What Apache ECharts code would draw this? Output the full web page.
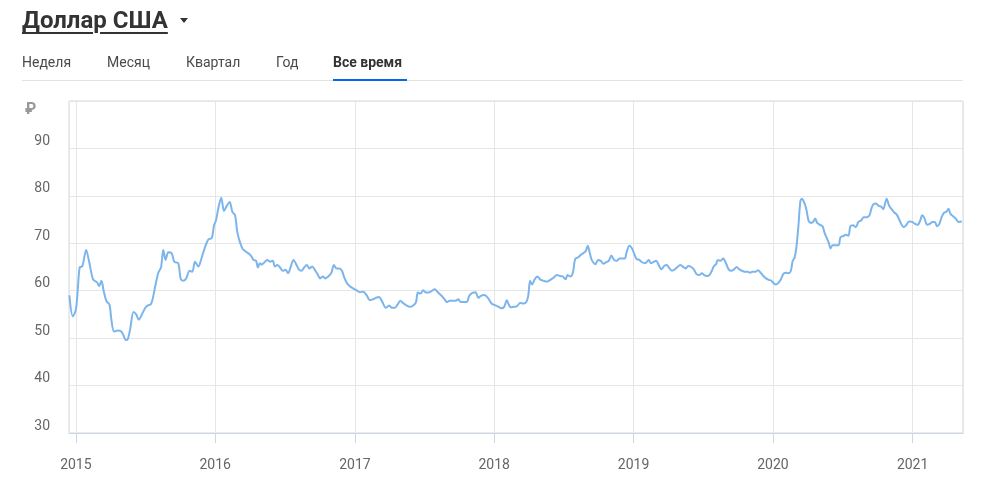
<!DOCTYPE html>
<html>
<head>
<meta charset="utf-8">
<script src="https://cdn.jsdelivr.net/npm/echarts@6/dist/echarts.min.js"></script>
<style>
  html, body { margin:0; padding:0; background:#fff; }
  body { width:985px; height:493px; position:relative; overflow:hidden; font-family: Roboto, "Noto Sans", Arial, sans-serif; }
  #chart { position:absolute; left:0; top:0; width:985px; height:493px; }
  .title { position:absolute; left:22px; top:6px; font-weight:700; font-size:24px; line-height:28px; color:#333; white-space:nowrap;
           text-decoration:underline; text-decoration-thickness:2px; text-underline-offset:4px; z-index:2; }
  .caret { position:absolute; left:180px; top:18px; width:0; height:0; border-left:4px solid transparent; border-right:4px solid transparent; border-top:5px solid #333; z-index:2; }
  .tab { position:absolute; top:54px; font-size:14px; line-height:16px; color:#4a4a4a; white-space:nowrap; z-index:2; }
  .tab.active { font-weight:700; color:#333; }
  .sep { position:absolute; left:22px; top:80px; width:941px; height:1px; background:#e2e2e2; z-index:2; }
  .ul { position:absolute; left:333px; top:79px; width:74px; height:2px; background:#0a64f0; z-index:3; }
</style>
</head>
<body>
<div id="chart"></div>
<div class="title">Доллар США</div>
<div class="caret"></div>
<div class="tab" style="left:22px">Неделя</div>
<div class="tab" style="left:107px">Месяц</div>
<div class="tab" style="left:186px">Квартал</div>
<div class="tab" style="left:276px">Год</div>
<div class="tab active" style="left:333px">Все время</div>
<div class="sep"></div>
<div class="ul"></div>
<script>
const dates = [
'2014-12-15','2014-12-24','2015-01-01','2015-01-06','2015-01-11','2015-01-18','2015-01-28','2015-02-05','2015-02-15','2015-02-25',
'2015-03-03','2015-03-09','2015-03-15','2015-03-22','2015-03-30','2015-04-04','2015-04-11','2015-04-21','2015-04-30','2015-05-05',
'2015-05-12','2015-05-17','2015-05-23','2015-06-01','2015-06-08','2015-06-15','2015-06-23','2015-07-02','2015-07-09','2015-07-16',
'2015-07-21','2015-07-28','2015-08-05','2015-08-12','2015-08-18','2015-08-24','2015-08-31','2015-09-09','2015-09-16','2015-09-26',
'2015-10-03','2015-10-10','2015-10-17','2015-10-26','2015-11-02','2015-11-09','2015-11-18','2015-11-26','2015-12-05','2015-12-14',
'2015-12-23','2015-12-29','2016-01-03','2016-01-10','2016-01-17','2016-01-24','2016-02-01','2016-02-08','2016-02-15','2016-02-22',
'2016-02-28','2016-03-06','2016-03-13','2016-03-22','2016-03-31','2016-04-05','2016-04-10','2016-04-17','2016-04-22','2016-04-27',
'2016-05-02','2016-05-09','2016-05-16','2016-05-24','2016-05-31','2016-06-05','2016-06-12','2016-06-19','2016-06-26','2016-07-03',
'2016-07-10','2016-07-17','2016-07-24','2016-07-31','2016-08-07','2016-08-14','2016-08-21','2016-08-28','2016-09-04','2016-09-11',
'2016-09-18','2016-09-25','2016-10-02','2016-10-09','2016-10-16','2016-10-23','2016-10-31','2016-11-07','2016-11-14','2016-11-21',
'2016-11-28','2016-12-04','2016-12-11','2016-12-18','2016-12-25','2017-01-05','2017-01-14','2017-01-23','2017-02-01','2017-02-09',
'2017-02-17','2017-02-25','2017-03-05','2017-03-14','2017-03-23','2017-04-01','2017-04-08','2017-04-16','2017-04-23','2017-04-30',
'2017-05-07','2017-05-16','2017-05-25','2017-06-03','2017-06-10','2017-06-15','2017-06-22','2017-06-29','2017-07-06','2017-07-13',
'2017-07-20','2017-07-29','2017-08-05','2017-08-14','2017-08-23','2017-08-30','2017-09-06','2017-09-15','2017-09-22','2017-09-29',
'2017-10-05','2017-10-14','2017-10-21','2017-10-28','2017-11-06','2017-11-13','2017-11-20','2017-11-27','2017-12-04','2017-12-11',
'2017-12-18','2017-12-25','2018-01-01','2018-01-10','2018-01-20','2018-01-27','2018-02-03','2018-02-08','2018-02-13','2018-02-21',
'2018-03-01','2018-03-10','2018-03-19','2018-03-26','2018-03-31','2018-04-05','2018-04-10','2018-04-17','2018-04-24','2018-05-01',
'2018-05-10','2018-05-19','2018-05-28','2018-06-06','2018-06-14','2018-06-23','2018-06-30','2018-07-07','2018-07-12','2018-07-19',
'2018-07-26','2018-08-01','2018-08-08','2018-08-15','2018-08-22','2018-08-29','2018-09-03','2018-09-07','2018-09-12','2018-09-17',
'2018-09-23','2018-09-30','2018-10-07','2018-10-14','2018-10-21','2018-10-28','2018-11-04','2018-11-11','2018-11-18','2018-11-25',
'2018-12-02','2018-12-09','2018-12-14','2018-12-21','2018-12-28','2019-01-04','2019-01-09','2019-01-16','2019-01-23','2019-01-31',
'2019-02-05','2019-02-10','2019-02-15','2019-02-21','2019-03-01','2019-03-08','2019-03-15','2019-03-22','2019-03-29','2019-04-05',
'2019-04-12','2019-04-19','2019-04-26','2019-05-03','2019-05-10','2019-05-17','2019-05-24','2019-06-01','2019-06-08','2019-06-15',
'2019-06-22','2019-06-29','2019-07-05','2019-07-12','2019-07-19','2019-07-25','2019-07-30','2019-08-05','2019-08-10','2019-08-17',
'2019-08-24','2019-08-31','2019-09-07','2019-09-14','2019-09-21','2019-09-28','2019-10-05','2019-10-12','2019-10-19','2019-10-26',
'2019-11-02','2019-11-09','2019-11-16','2019-11-23','2019-11-30','2019-12-07','2019-12-14','2019-12-21','2019-12-28','2020-01-08',
'2020-01-15','2020-01-22','2020-01-29','2020-02-05','2020-02-12','2020-02-17','2020-02-22','2020-02-27','2020-03-03','2020-03-08',
'2020-03-13','2020-03-17','2020-03-24','2020-03-29','2020-04-04','2020-04-11','2020-04-16','2020-04-21','2020-04-26','2020-05-03',
'2020-05-10','2020-05-15','2020-05-20','2020-05-26','2020-05-31','2020-06-05','2020-06-12','2020-06-21','2020-06-26','2020-07-03',
'2020-07-10','2020-07-17','2020-07-22','2020-07-29','2020-08-05','2020-08-12','2020-08-19','2020-08-26','2020-09-03','2020-09-10',
'2020-09-15','2020-09-20','2020-09-27','2020-10-04','2020-10-11','2020-10-16','2020-10-25','2020-10-31','2020-11-07','2020-11-14',
'2020-11-21','2020-11-28','2020-12-04','2020-12-09','2020-12-16','2020-12-23','2020-12-31','2021-01-07','2021-01-14','2021-01-21',
'2021-01-26','2021-02-01','2021-02-08','2021-02-15','2021-02-22','2021-02-28','2021-03-06','2021-03-12','2021-03-18','2021-03-25',
'2021-03-30','2021-04-05','2021-04-10','2021-04-17','2021-04-24','2021-05-01','2021-05-10'
];
const usdRub = [
59.0,54.6,56.0,60.3,64.9,65.2,68.6,66.0,62.4,61.8,
61.0,62.1,59.9,57.8,57.1,53.9,51.4,51.6,51.4,50.7,
49.6,49.8,51.8,55.5,55.0,53.9,55.0,56.4,56.9,57.1,
58.2,61.0,63.8,64.9,68.6,66.5,68.1,67.9,66.1,65.8,
62.4,62.1,62.6,64.2,64.0,66.1,65.1,66.8,69.1,70.8,
71.1,73.8,74.8,77.7,79.6,76.8,78.0,78.7,76.6,75.9,
72.3,70.2,68.8,68.2,67.7,67.2,66.5,66.3,64.9,65.8,
65.5,66.0,66.5,66.1,66.3,65.1,65.4,64.9,64.2,64.4,
63.7,65.1,66.5,65.6,64.5,64.2,64.9,65.4,64.7,65.1,
64.4,63.5,62.6,63.0,62.6,63.0,63.7,65.4,64.7,64.7,
64.2,62.8,61.6,61.0,60.6,60.1,59.7,59.8,59.0,58.0,
58.2,58.5,58.7,57.6,56.4,56.9,56.4,56.4,57.1,57.9,
57.4,56.9,56.6,56.9,57.6,59.6,59.4,60.1,59.6,59.6,
59.9,60.3,59.8,59.1,58.3,57.6,57.9,57.9,57.9,58.2,
57.6,57.6,57.6,59.0,59.6,59.7,58.5,58.9,59.1,58.9,
58.2,57.3,57.0,56.7,56.3,56.6,58.0,57.1,56.5,56.6,
56.7,57.4,57.3,57.6,58.9,62.1,61.3,62.4,63.0,62.4,
62.1,61.9,62.3,62.8,63.3,63.1,63.0,62.4,63.3,63.0,
63.8,66.7,67.0,67.5,67.9,68.4,69.5,68.4,66.8,66.0,
65.6,66.5,66.3,65.7,66.0,66.3,67.4,66.5,66.3,66.8,
66.8,66.8,68.2,69.5,68.9,67.5,66.7,66.5,66.0,65.8,
66.1,66.5,65.8,66.0,66.3,65.4,64.5,65.2,65.4,64.7,
64.2,64.5,65.0,65.4,65.1,64.7,65.2,65.0,64.5,63.5,
63.3,63.7,63.3,63.1,63.3,64.2,65.1,65.6,66.5,66.3,
66.8,65.8,64.5,64.2,64.5,65.0,64.5,64.2,64.0,64.0,
63.8,64.0,64.0,64.3,63.8,63.1,62.6,62.3,62.1,61.3,
61.6,62.4,63.6,63.8,63.7,64.2,66.3,67.0,69.5,73.8,
78.9,79.4,78.4,77.0,74.6,74.3,74.6,75.2,74.3,73.9,
73.6,72.3,71.3,70.2,68.9,69.6,69.6,69.6,71.3,71.5,
71.8,71.6,73.6,73.8,73.4,74.5,74.8,75.5,75.5,75.9,
77.3,78.2,78.4,77.9,77.7,77.2,79.4,78.0,77.2,76.5,
76.0,74.8,73.8,73.4,73.9,74.6,74.5,74.1,73.9,74.8,
75.9,75.3,73.9,74.1,74.5,74.5,73.6,74.1,75.5,76.5,
76.6,77.3,76.2,75.7,75.2,74.5,74.6
];
const yTicks = { min: 30, max: 100, step: 10 };
const xRange = { start: '2014-12-14', end: '2021-05-13' };
const currencySign = '₽';

const chart = echarts.init(document.getElementById('chart'), null, { renderer: 'canvas' });
chart.setOption({
  animation: false,
  backgroundColor: '#fff',
  grid: { left: 69, right: 22, top: 101, bottom: 60, show: true, borderColor: '#d6d6d6', borderWidth: 1 },
  graphic: [{
    type: 'text', left: 25, top: 102,
    style: { text: currencySign, fontSize: 16, fontWeight: 'bold', fill: '#999', fontFamily: 'Roboto' }
  }],
  xAxis: {
    type: 'time',
    min: xRange.start, max: xRange.end,
    minInterval: 365 * 24 * 3600 * 1000,
    maxInterval: 366 * 24 * 3600 * 1000,
    axisLine: { show: true, lineStyle: { color: '#ccd6eb', width: 1 } },
    axisTick: { show: true, length: 10, lineStyle: { color: '#ccd6eb' } },
    axisLabel: { color: '#666', fontSize: 14, fontFamily: 'Roboto', margin: 25, formatter: '{yyyy}', showMinLabel: false, showMaxLabel: false },
    splitLine: { show: true, lineStyle: { color: '#e6e6e6' } }
  },
  yAxis: {
    type: 'value', min: yTicks.min, max: yTicks.max, interval: yTicks.step,
    axisLine: { show: false }, axisTick: { show: false },
    axisLabel: { color: '#666', fontSize: 14, fontFamily: 'Roboto', margin: 19, verticalAlign: 'bottom',
      formatter: v => (v === yTicks.max ? '' : String(v)) },
    splitLine: { show: true, lineStyle: { color: '#e6e6e6' } }
  },
  series: [{
    type: 'line',
    data: dates.map((d, i) => [d, usdRub[i]]),
    showSymbol: false,
    smooth: 0.3,
    lineStyle: { color: '#7cb5ec', width: 2 },
    itemStyle: { color: '#7cb5ec' }
  }]
});
</script>
</body>
</html>
